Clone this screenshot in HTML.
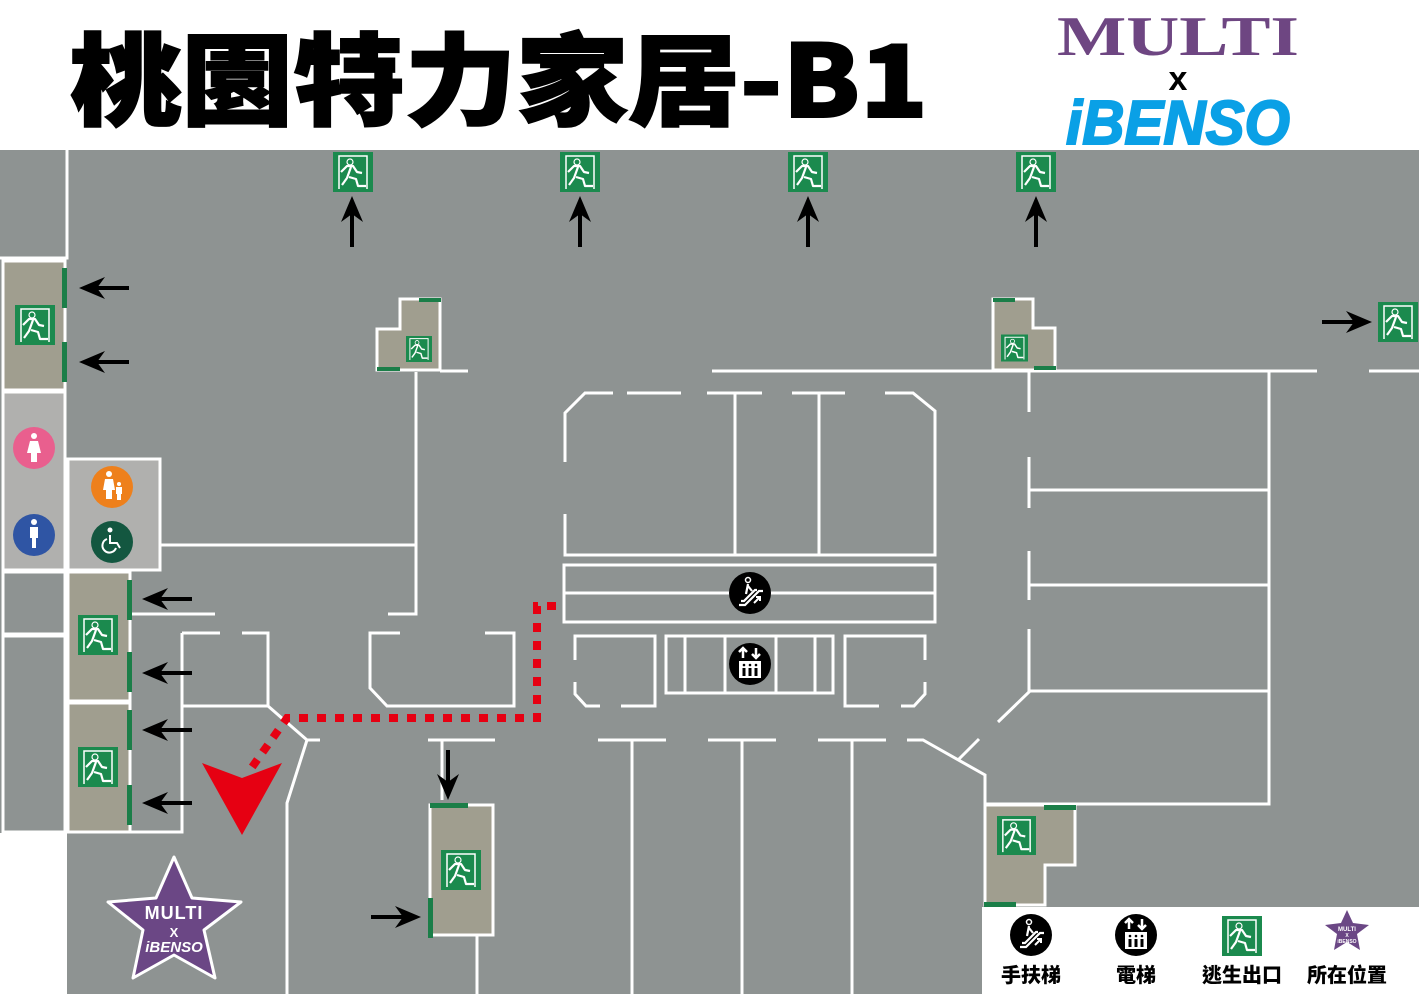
<!DOCTYPE html>
<html><head><meta charset="utf-8"><style>
html,body{margin:0;padding:0;background:#fff;width:1419px;height:994px;overflow:hidden}
svg{display:block}
</style></head><body>
<svg width="1419" height="994" viewBox="0 0 1419 994" xmlns="http://www.w3.org/2000/svg">
<defs>
<symbol id="ex" viewBox="0 0 40 40">
<rect width="40" height="40" fill="#1b8a4e"/>
<path d="M6 37V4h28v33" fill="none" stroke="#fff" stroke-width="1.5"/>
<circle cx="17" cy="10" r="3" fill="#1b8a4e" stroke="#fff" stroke-width="1.2"/>
<path d="M8 20l6-6h6l4 6 5 1M18 15l-4 11-5 7M16 25l7 2 2 7h8" fill="none" stroke="#fff" stroke-width="2.2" stroke-linejoin="round"/>
</symbol>
<symbol id="esc" viewBox="0 0 42 42">
<circle cx="21" cy="21" r="21" fill="#000"/>
<circle cx="19" cy="8" r="2.5" fill="none" stroke="#fff" stroke-width="1.5"/>
<path d="M19 12l-2 10M19 14l4 5M10 33h6l14-14h4M12 29h3l11-11h2" fill="none" stroke="#fff" stroke-width="2.2"/>
<path d="M25 31l6-6M27 25h4v4" fill="none" stroke="#fff" stroke-width="2"/>
</symbol>
<symbol id="elv" viewBox="0 0 42 42">
<circle cx="21" cy="21" r="21" fill="#000"/>
<path d="M14 15V5M10 9l4-4 4 4M27 5v10M23 11l4 4 4-4" fill="none" stroke="#fff" stroke-width="2.5"/>
<rect x="10" y="18" width="22" height="17" fill="#fff"/>
<path d="M15 25v8M21 25v8M27 25v8" stroke="#000" stroke-width="3"/>
<circle cx="15" cy="22" r="1.3" fill="#000"/><circle cx="21" cy="22" r="1.3" fill="#000"/><circle cx="27" cy="22" r="1.3" fill="#000"/>
</symbol>
</defs>

<!-- title -->
<text x="70" y="117" font-family="'Noto Sans CJK TC','Noto Sans CJK SC',sans-serif" font-weight="900" font-size="100" fill="#000" stroke="#000" stroke-width="2" textLength="858" lengthAdjust="spacingAndGlyphs">桃園特力家居-B1</text>
<text x="1057" y="55" font-family="'Liberation Serif',serif" font-weight="bold" font-size="56" fill="#6e4682" textLength="242" lengthAdjust="spacingAndGlyphs">MULTI</text>
<text x="1178" y="90" text-anchor="middle" font-family="'Liberation Sans',sans-serif" font-weight="bold" font-size="34" fill="#000">x</text>
<text x="1066" y="144" font-family="'Liberation Sans',sans-serif" font-weight="bold" font-style="italic" font-size="62" fill="#0aa0e6" stroke="#0aa0e6" stroke-width="2" textLength="224" lengthAdjust="spacingAndGlyphs">iBENSO</text>

<!-- map background -->
<rect x="0" y="150" width="1419" height="844" fill="#8e9392"/>
<rect x="0" y="833" width="67" height="161" fill="#fff"/>
<rect x="982" y="907" width="437" height="87" fill="#fff"/>

<g stroke="#fff" stroke-width="3" fill="none">
<path d="M67 150V258H0"/>
<rect x="3" y="261" width="62" height="129" fill="#a09e8f"/>
<rect x="3" y="392" width="62" height="178" fill="#b0b0ae"/>
<rect x="68" y="459" width="92" height="111" fill="#b0b0ae"/>
<rect x="3" y="572" width="62" height="62"/>
<rect x="3" y="636" width="62" height="196"/>
<rect x="68" y="572" width="62" height="129" fill="#a09e8f"/>
<rect x="68" y="703" width="62" height="129" fill="#a09e8f"/>
<path d="M130 614H215M182 633V832H130M160 545H416M416 372V614H388"/>
<path d="M182 633H220M242 633H268V706H182M268 706L307 740H320M307 740L287 803V994"/>
<path d="M400 633H370V688L387 706H514V633H485"/>
<path d="M428 740H495M442 740V800M477 936V994"/>
<rect x="430" y="805" width="63" height="130" fill="#a09e8f"/>
<path d="M400 299H440V370H377V329H400Z" fill="#a09e8f"/>
<path d="M440 371H468"/>
<path d="M993 299H1033V328H1055V370H993Z" fill="#a09e8f"/>
<path d="M712 371H1317M1369 371H1419"/>
<path d="M1029 371V412M1029 457V508M1029 551V600M1029 629V692L998 722M979 725"/>
<path d="M1029 490H1268M1029 585H1268M1029 691H1268M1269 371V804H985"/>
<path d="M907 740H923L985 775V804M958 760L979 739"/>
<path d="M985 805H1075V865H1045V905H985Z" fill="#a09e8f"/>
<path d="M565 462V413L585 393H613M627 393H681M707 393H762M792 393H845M885 393H913L935 411V555H565V514"/>
<path d="M735 393V555M819 393V555"/>
<rect x="564" y="565" width="371" height="57"/>
<path d="M564 593H935"/>
<path d="M575 660V636H655V706H621M600 706H586L575 694V682"/>
<rect x="666" y="636" width="167" height="57"/>
<path d="M685 636V693M725 636V693M776 636V693M815 636V693"/>
<path d="M925 660V636H845V706H879M901 706H914L925 694V682"/>
<path d="M598 740H666M632 740V994M708 740H776M742 740V994M818 740H886M852 740V994"/>
</g>

<g fill="#1b7e48">
<rect x="62" y="268" width="5" height="40"/><rect x="62" y="342" width="5" height="40"/>
<rect x="127" y="580" width="5" height="40"/><rect x="127" y="652" width="5" height="40"/>
<rect x="127" y="710" width="5" height="40"/><rect x="127" y="785" width="5" height="40"/>
<rect x="419" y="298" width="22" height="4"/><rect x="377" y="367" width="23" height="4"/>
<rect x="993" y="298" width="22" height="4"/><rect x="1034" y="366" width="22" height="4"/>
<rect x="1044" y="805" width="32" height="5"/><rect x="984" y="902" width="32" height="5"/>
<rect x="430" y="803" width="38" height="5"/><rect x="428" y="898" width="5" height="40"/>
</g>

<use href="#ex" x="333" y="152" width="40" height="40"/>
<use href="#ex" x="560" y="152" width="40" height="40"/>
<use href="#ex" x="788" y="152" width="40" height="40"/>
<use href="#ex" x="1016" y="152" width="40" height="40"/>
<use href="#ex" x="1378" y="302" width="40" height="40"/>
<use href="#ex" x="15" y="305" width="40" height="40"/>
<use href="#ex" x="406" y="336" width="26" height="26"/>
<use href="#ex" x="1001" y="334" width="27" height="28"/>
<use href="#ex" x="78" y="615" width="40" height="40"/>
<use href="#ex" x="78" y="747" width="40" height="40"/>
<use href="#ex" x="441" y="850" width="40" height="40"/>
<use href="#ex" x="997" y="816" width="39" height="39"/>
<use href="#ex" x="1222" y="916" width="40" height="40"/>

<g fill="#000">
<g id="au"><rect x="350" y="210" width="4" height="37"/><path d="M352 196L341 222L352 214L363 222Z"/></g>
<use href="#au" x="228"/><use href="#au" x="456"/><use href="#au" x="684"/>
<g id="al"><rect x="92" y="286" width="37" height="4"/><path d="M79 288L105 277L97 288L105 299Z"/></g>
<use href="#al" y="74"/>
<use href="#al" x="63" y="311"/><use href="#al" x="63" y="385"/><use href="#al" x="63" y="442"/><use href="#al" x="63" y="515"/>
<rect x="1322" y="320" width="37" height="4"/><path d="M1372 322L1346 311L1354 322L1346 333Z"/>
<rect x="371" y="915" width="37" height="4"/><path d="M421 917L395 906L403 917L395 928Z"/>
<rect x="446" y="750" width="4" height="37"/><path d="M448 800L437 774L448 782L459 774Z"/>
</g>

<path d="M556 606H537V718H287L250 770" fill="none" stroke="#e60012" stroke-width="8" stroke-dasharray="9 9"/>
<path d="M202 763L242 778L282 763L242 835Z" fill="#e60012"/>

<circle cx="34" cy="448" r="21" fill="#e95f8e"/>
<circle cx="34" cy="535" r="21" fill="#2f55a4"/>
<circle cx="112" cy="487" r="21" fill="#ee801c"/>
<circle cx="112" cy="542" r="21" fill="#135740"/>
<g fill="#fff">
<circle cx="34" cy="436" r="3"/><path d="M30 441h8l3 12h-4v9h-6v-9h-4z"/>
<circle cx="34" cy="522" r="3"/><path d="M30 527h8v11h-2v10h-4v-10h-2z"/>
<circle cx="109" cy="474" r="3"/><path d="M105 479h8l2 11h-3v9h-6v-9h-3z"/>
<circle cx="119" cy="484" r="2"/><path d="M116 487h6v7h-1v6h-4v-6h-1z"/>
<circle cx="110" cy="530" r="2.5"/>
</g>
<path d="M110 535v8h7l3 5M107 539a7 7 0 1 0 9 9" fill="none" stroke="#fff" stroke-width="2"/>

<use href="#esc" x="729" y="572" width="42" height="42"/>
<use href="#elv" x="729" y="643" width="42" height="42"/>

<path d="M174 857L192 898L241 902L204 930L215 978L174 955L133 978L143 930L108 902L156 898Z" fill="#6b4785" stroke="#fff" stroke-width="3" stroke-linejoin="round"/>
<g font-family="'Liberation Sans',sans-serif" font-weight="bold" fill="#fff" text-anchor="middle">
<text x="174" y="919" font-size="18" letter-spacing="1">MULTI</text>
<text x="174" y="937" font-size="13">X</text>
<text x="174" y="952" font-size="15" font-style="italic">iBENSO</text>
</g>

<use href="#esc" x="1010" y="914" width="42" height="42"/>
<use href="#elv" x="1115" y="914" width="42" height="42"/>
<path d="M1347 910L1353 923L1369 925L1357 934L1360 950L1347 942L1334 950L1337 934L1325 925L1341 923Z" fill="#6b4785"/>
<g font-family="'Liberation Sans',sans-serif" font-weight="bold" fill="#fff" text-anchor="middle">
<text x="1347" y="931" font-size="6">MULTI</text><text x="1347" y="937" font-size="5">X</text><text x="1347" y="943" font-size="5">iBENSO</text>
</g>
<g font-family="'Noto Sans CJK TC','Noto Sans CJK SC',sans-serif" font-weight="900" font-size="20" fill="#000" text-anchor="middle">
<text x="1031" y="982">手扶梯</text>
<text x="1136" y="982">電梯</text>
<text x="1242" y="982">逃生出口</text>
<text x="1347" y="982">所在位置</text>
</g>
</svg>
</body></html>
